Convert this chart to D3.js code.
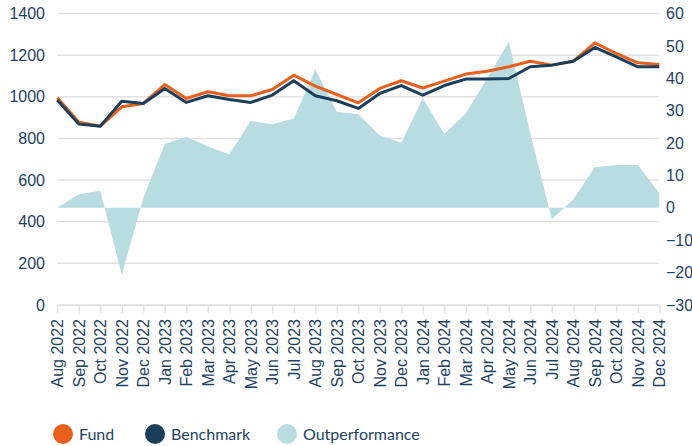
<!DOCTYPE html>
<html><head><meta charset="utf-8">
<script src="https://cdnjs.cloudflare.com/ajax/libs/d3/7.8.5/d3.min.js"></script>
<style>
html,body{margin:0;padding:0;background:#fff;}
svg{display:block;font-family:Lato,"Open Sans",sans-serif;}
</style></head>
<body><svg id="chart" width="692" height="446"></svg>
<script>
const months = ["Aug 2022","Sep 2022","Oct 2022","Nov 2022","Dec 2022","Jan 2023","Feb 2023","Mar 2023","Apr 2023","May 2023","Jun 2023","Jul 2023","Aug 2023","Sep 2023","Oct 2023","Nov 2023","Dec 2023","Jan 2024","Feb 2024","Mar 2024","Apr 2024","May 2024","Jun 2024","Jul 2024","Aug 2024","Sep 2024","Oct 2024","Nov 2024","Dec 2024"];
const fund = [995,878,859,952,968,1059,992,1024,1005,1005,1035,1104,1051,1011,971,1040,1077,1042,1075,1109,1123,1144,1171,1152,1171,1259,1208,1163,1155];
const benchmark = [985,869,859,979,968,1040,973,1005,987,973,1008,1077,1005,981,944,1016,1054,1008,1054,1085,1085,1088,1144,1152,1171,1237,1192,1144,1144];
const outperformance = [0,4.2,5.3,-20.7,3,19.7,21.9,19.0,16.5,26.8,25.8,27.6,42.7,29.7,28.9,22.3,20.1,33.8,22.8,29.2,40,51.3,23,-3.5,2.6,12.5,13.2,13.2,4.5];
const leftTicks = [0,200,400,600,800,1000,1200,1400];
const rightTicks = [-30,-20,-10,0,10,20,30,40,50,60];
const seriesNames = ["Fund","Benchmark","Outperformance"];
const colors = {Fund:"#e8601c",Benchmark:"#1b3f5a",Outperformance:"#b8dce1"};
const textColor = "#1f4260";

const svg = d3.select("#chart");
const L = 57.3, R = 659.3, T = 13.5, B = 305;
const x = d3.scalePoint().domain(months).range([L, R]);
const yL = d3.scaleLinear().domain([0,1400]).range([B, T]);
const yR = d3.scaleLinear().domain([-30,60]).range([B, T]);

svg.append("g").selectAll("line").data(leftTicks).join("line")
  .attr("x1", L).attr("x2", R)
  .attr("y1", d=>yL(d)).attr("y2", d=>yL(d))
  .attr("stroke", "#e2e2e2").attr("stroke-width", 1.5);

const area = d3.area().x((d,i)=>x(months[i])).y0(yR(0)).y1(d=>yR(d));
svg.append("path").datum(outperformance).attr("d", area).attr("fill", colors.Outperformance);

const line = d3.line().x((d,i)=>x(months[i]));
svg.append("path").datum(fund).attr("d", line.y(d=>yL(d)))
  .attr("fill","none").attr("stroke", colors.Fund).attr("stroke-width",3).attr("stroke-linejoin","round");
svg.append("path").datum(benchmark).attr("d", line.y(d=>yL(d)))
  .attr("fill","none").attr("stroke", colors.Benchmark).attr("stroke-width",3).attr("stroke-linejoin","round");

const xa = svg.append("g").attr("transform",`translate(0,${B})`)
  .call(d3.axisBottom(x).tickSize(8).tickPadding(6).tickSizeOuter(0));
xa.select(".domain").attr("stroke","#e2e2e2").attr("stroke-width",1.5);
xa.selectAll(".tick line").attr("stroke","#e2e2e2").attr("stroke-width",1.5);
xa.selectAll("text").attr("fill",textColor).style("font-size","16px")
  .attr("transform","rotate(-90)").attr("text-anchor","end")
  .attr("x",-14).attr("y",0).attr("dy","0.35em");

const la = svg.append("g").attr("transform",`translate(45,0)`)
  .call(d3.axisLeft(yL).tickValues(leftTicks).tickFormat(d3.format("d")).tickSize(0).tickPadding(0));
la.select(".domain").remove();
la.selectAll("text").attr("fill",textColor).style("font-size","16px");

const ra = svg.append("g").attr("transform",`translate(666,0)`)
  .call(d3.axisRight(yR).tickValues(rightTicks).tickFormat(d3.format("d")).tickSize(0).tickPadding(0));
ra.select(".domain").remove();
ra.selectAll("text").attr("fill",textColor).style("font-size","16px");

const legX = [63,155,287];
const lg = svg.append("g").selectAll("g").data(seriesNames).join("g")
  .attr("transform",(d,i)=>`translate(${legX[i]},434)`);
lg.append("circle").attr("r",10).attr("fill",d=>colors[d]);
lg.append("text").attr("x",16).attr("dy","0.35em").attr("fill",textColor)
  .style("font-size","16px").text(d=>d);
</script></body></html>
